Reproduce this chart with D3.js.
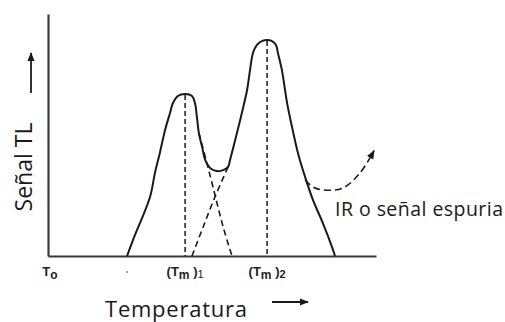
<!DOCTYPE html>
<html>
<head>
<meta charset="utf-8">
<script src="https://cdn.jsdelivr.net/npm/d3@7"></script>
<style>
  body { margin: 0; background: #fff; }
  svg { display: block; }
</style>
</head>
<body>
<svg width="505" height="322"></svg>
<script>
// glow curve: [temperature, TL signal] in arbitrary units
var tlCurve = [
  [24.1, 0], [25.9, 6.6], [31.1, 24.4], [32.6, 34.3], [34.1, 42.6], [35.7, 52.1],
  [37.2, 59.1], [38.1, 63.2], [39.6, 66.1], [41.8, 66.9], [43.9, 66.1], [44.8, 63.2],
  [45.4, 57.4], [46.0, 50.8], [47.0, 45.0], [47.9, 39.7], [49.4, 36.4], [51.5, 35.1],
  [53.4, 35.5], [54.9, 36.8], [55.5, 39.7], [57.6, 50.8], [59.1, 59.1], [60.7, 68.6],
  [61.6, 76.9], [62.5, 83.9], [63.7, 87.2], [65.2, 88.8], [66.8, 89.3], [68.3, 88.8],
  [69.5, 87.2], [70.1, 83.9], [71.3, 76.9], [72.9, 63.2], [74.4, 53.3], [76.2, 42.6],
  [78.4, 32.6], [80.8, 23.1], [83.8, 13.6], [86.6, 3.7], [87.5, 0]
];
// hidden parts of the two single peaks
var peak1Tail = [[46.0, 50.8], [48.2, 39.7], [50.3, 28.5], [53.4, 12.0], [56.1, 0]];
var peak2Rise = [[43.9, 0], [47.3, 12.0], [50.9, 24.4], [54.9, 36.8]];
// infrared / spurious signal
var spurious = [[78.4, 31.4], [80.8, 28.5], [83.8, 27.3], [89.9, 28.1], [95.1, 34.3], [99.4, 43.5]];

var peakTemps = [41.8, 66.8];
var peakSignals = [66.9, 89.3];
var tickTemps = [0, 41.8, 66.8];
var tickLabels = [["T", "o", ""], ["(T", "m", " )", "1"], ["(T", "m", " )", "2"]];

var svg = d3.select("svg");
var x = d3.scaleLinear().domain([0, 100]).range([48, 376]),
    y = d3.scaleLinear().domain([0, 100]).range([256, 14]);

var ink = "#1a1a1a";

var defs = svg.append("defs");
defs.append("marker")
    .attr("id", "head")
    .attr("viewBox", "0 0 10 10")
    .attr("refX", 9).attr("refY", 5)
    .attr("markerWidth", 9).attr("markerHeight", 9)
    .attr("markerUnits", "userSpaceOnUse")
    .attr("orient", "auto")
  .append("path")
    .attr("d", "M0,1 L10,5 L0,9 Z")
    .attr("fill", ink);

// axes: bare lines, no ticks
svg.append("g")
    .attr("transform", "translate(0," + y(0) + ")")
    .call(d3.axisBottom(x).tickValues([]).tickSizeOuter(0))
    .select(".domain").attr("stroke", "#3a3a3a").attr("stroke-width", 2.2);
svg.append("g")
    .attr("transform", "translate(" + x(0) + ",0)")
    .call(d3.axisLeft(y).tickValues([]).tickSizeOuter(0))
    .select(".domain").attr("stroke", "#3a3a3a").attr("stroke-width", 2.2);

var line = d3.line()
    .curve(d3.curveCatmullRom.alpha(0.5))
    .x(function(d) { return x(d[0]); })
    .y(function(d) { return y(d[1]); });

// dashed verticals at the peak maxima
svg.selectAll(".vline")
    .data(peakTemps)
  .enter().append("line")
    .attr("x1", function(d) { return x(d); })
    .attr("x2", function(d) { return x(d); })
    .attr("y1", function(d, i) { return y(peakSignals[i]) + 1; })
    .attr("y2", y(0))
    .attr("stroke", ink)
    .attr("stroke-width", 1.5)
    .attr("stroke-dasharray", "5,3");

[peak1Tail, peak2Rise].forEach(function(p) {
  svg.append("path")
      .attr("d", line(p))
      .attr("fill", "none")
      .attr("stroke", ink)
      .attr("stroke-width", 1.6)
      .attr("stroke-dasharray", "6,4");
});

svg.append("path")
    .attr("d", line(spurious))
    .attr("fill", "none")
    .attr("stroke", ink)
    .attr("stroke-width", 1.6)
    .attr("stroke-dasharray", "7,4")
    .attr("marker-end", "url(#head)");

svg.append("path")
    .attr("d", line(tlCurve))
    .attr("fill", "none")
    .attr("stroke", ink)
    .attr("stroke-width", 2);

// little mark under the start of the curve
svg.append("circle")
    .attr("cx", x(tlCurve[0][0]))
    .attr("cy", 272)
    .attr("r", 1)
    .attr("fill", "#888");

// tick labels with subscripts
var ticks = svg.selectAll(".tick-label")
    .data(tickTemps)
  .enter().append("text")
    .attr("class", "tick-label")
    .attr("x", function(d, i) { return x(d) + (i == 0 ? 2 : 0); })
    .attr("y", 276)
    .attr("text-anchor", "middle")
    .style("font", "bold 13px 'Liberation Sans', sans-serif")
    .attr("fill", "#222");
ticks.each(function(d, i) {
  var t = d3.select(this), parts = tickLabels[i];
  t.append("tspan").text(parts[0]);
  t.append("tspan").attr("dy", 3).style("font-size", "12px").text(parts[1]);
  if (parts.length > 2) {
    t.append("tspan").attr("dy", -3).text(parts[2]);
    t.append("tspan").attr("dy", 2).style("font-size", "11px").style("font-weight", i == 1 ? "normal" : "bold").text(parts[3]);
  }
});

// axis titles
svg.append("text")
    .attr("transform", "translate(32,167) rotate(-90)")
    .attr("text-anchor", "middle")
    .style("font", "23px 'Open Sans', sans-serif")
    .attr("fill", "#1a1a1a")
    .text("Señal TL");

svg.append("text")
    .attr("x", 105).attr("y", 317)
    .attr("textLength", 142).attr("lengthAdjust", "spacing")
    .style("font", "22px 'Open Sans', sans-serif")
    .attr("fill", "#1a1a1a")
    .text("Temperatura");

svg.append("text")
    .attr("x", 335).attr("y", 216)
    .attr("textLength", 168).attr("lengthAdjust", "spacing")
    .style("font", "19.5px 'Open Sans', sans-serif")
    .attr("fill", "#1a1a1a")
    .text("IR o señal espuria");

// direction arrows
svg.append("line")
    .attr("x1", 31).attr("y1", 93).attr("x2", 31).attr("y2", 53)
    .attr("stroke", ink).attr("stroke-width", 1.8)
    .attr("marker-end", "url(#head)");
svg.append("line")
    .attr("x1", 272).attr("y1", 302).attr("x2", 308).attr("y2", 302)
    .attr("stroke", ink).attr("stroke-width", 1.8)
    .attr("marker-end", "url(#head)");
</script>
</body>
</html>
